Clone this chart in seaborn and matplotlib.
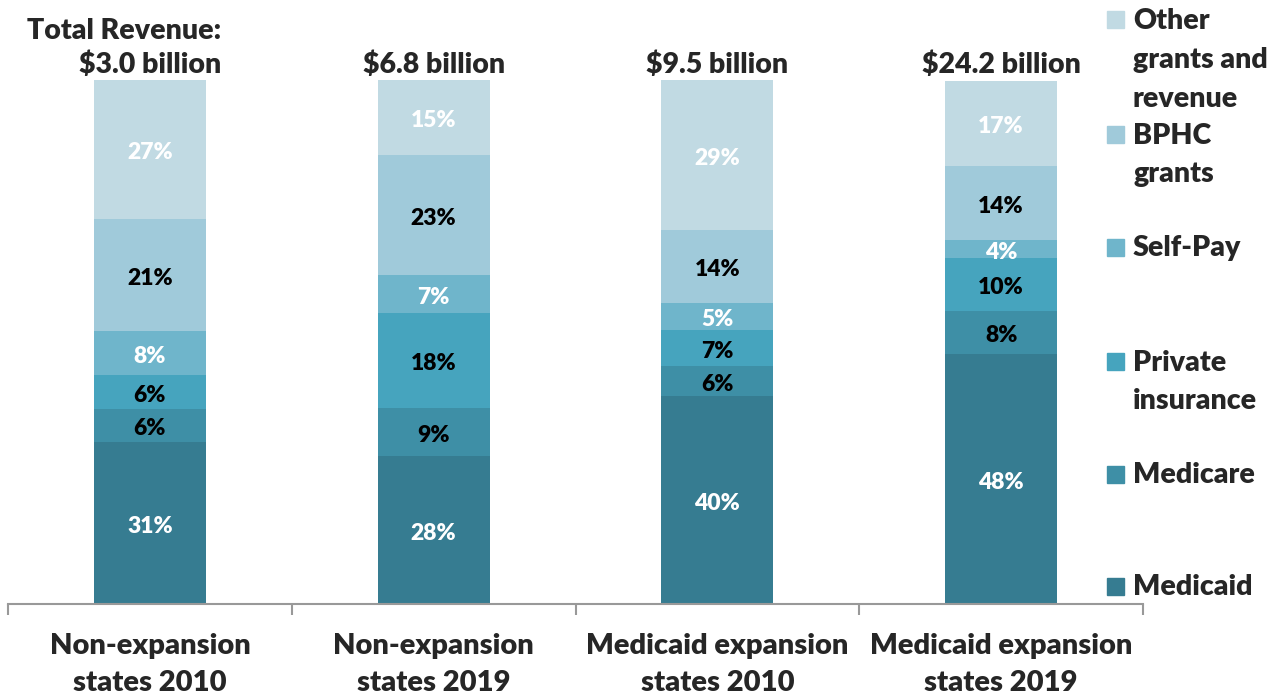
import matplotlib.pyplot as plt
import matplotlib.patches as mpatches
import numpy as np
import seaborn as sns

# categories and stacked shares (% of total revenue), bottom to top
groups = ["Non-expansion\nstates 2010", "Non-expansion\nstates 2019",
          "Medicaid expansion\nstates 2010", "Medicaid expansion\nstates 2019"]
totals = ["$3.0 billion", "$6.8 billion", "$9.5 billion", "$24.2 billion"]

series = ["Medicaid", "Medicare", "Private\ninsurance", "Self-Pay",
          "BPHC\ngrants", "Other\ngrants and\nrevenue"]
medicaid = [30.9, 28.2, 39.7, 47.7]
medicare = [6.3, 9.2, 5.7, 8.2]
private_ins = [6.5, 18.1, 6.9, 10.1]
self_pay = [8.4, 7.3, 5.2, 3.4]
bphc = [21.4, 22.9, 13.9, 14.1]
other = [26.5, 14.3, 28.6, 16.4]

# printed labels in the chart
lbl_medicaid = ["31%", "28%", "40%", "48%"]
lbl_medicare = ["6%", "9%", "6%", "8%"]
lbl_private = ["6%", "18%", "7%", "10%"]
lbl_selfpay = ["8%", "7%", "5%", "4%"]
lbl_bphc = ["21%", "23%", "14%", "14%"]
lbl_other = ["27%", "15%", "29%", "17%"]

values = [medicaid, medicare, private_ins, self_pay, bphc, other]
labels = [lbl_medicaid, lbl_medicare, lbl_private, lbl_selfpay, lbl_bphc, lbl_other]
colors = ["#367C91", "#3E8FA6", "#46A4BE", "#6FB5CB", "#A0CADA", "#C1DAE3"]
text_colors = ["white", "black", "black", "white", "black", "white"]

sns.set_style("white")
plt.rcParams['font.family'] = ['Lato', 'DejaVu Sans']
FW = 'heavy'

fig = plt.figure(figsize=(12.84, 6.98), dpi=100)
W, H = 1284, 698
ax = fig.add_axes([8 / W, 94 / H, (1143 - 8) / W, (604 - 80) / H])

bottom = np.zeros(len(groups))
for vals, lbls, col, tcol in zip(values, labels, colors, text_colors):
    sns.barplot(x=groups, y=vals, color=col, width=0.395, bottom=bottom,
                saturation=1, ax=ax, linewidth=0)
    for i, (v, l) in enumerate(zip(vals, lbls)):
        ax.text(i, bottom[i] + v / 2 - 0.6, l, ha='center', va='center',
                color=tcol, fontsize=16.5, fontweight=FW)
    bottom = bottom + np.array(vals)

ax.set_xlim(-0.5, len(groups) - 0.5)
ax.set_ylim(0, 100)
ax.set_yticks([])
for s in ["top", "right", "left"]:
    ax.spines[s].set_visible(False)
ax.spines["bottom"].set_color("#999999")
ax.spines["bottom"].set_linewidth(1.5)

ax.set_xticks(range(len(groups)))
ax.set_xticklabels(groups, fontsize=21, fontweight=FW, linespacing=1.5)
ax.set_xticks(np.arange(-0.5, len(groups)), minor=True)
ax.tick_params(axis='x', which='major', length=0, pad=21)
ax.tick_params(axis='x', which='minor', length=8, width=1.5, color="#999999",
               direction='out', bottom=True)

for i, t in enumerate(totals):
    ax.text(i, 103.0, t, ha='center', va='center', fontsize=20.5,
            fontweight=FW, clip_on=False)
ax.text(0.25, 109.4, "Total Revenue:", ha='right', va='center', fontsize=20.5,
        fontweight=FW, clip_on=False)

# legend, drawn top to bottom; y is the centre of each entry's first line
leg_y = [20, 135, 248, 362, 475, 587]
pitch = 40
for name, col, y in zip(series[::-1], colors[::-1], leg_y):
    n = name.count("\n")
    fig.patches.append(mpatches.Rectangle((1107 / W, 1 - (y + 8) / H), 17 / W, 17 / H,
                                          transform=fig.transFigure, color=col))
    yc = y + n * pitch / 2
    fig.text(1133 / W, 1 - yc / H, name, ha='left', va='center', fontsize=20.5,
             fontweight=FW, linespacing=1.6)

fig.savefig("out.png", dpi=100)
